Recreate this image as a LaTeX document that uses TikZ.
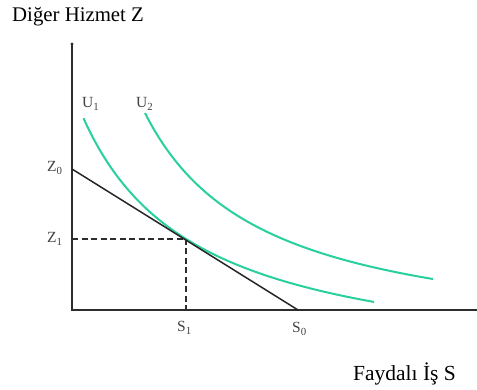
\documentclass[tikz,border=0pt]{standalone}
\usepackage{fontspec}
\setmainfont{Liberation Serif}
\definecolor{curvecol}{RGB}{40,208,158}
\definecolor{axiscol}{RGB}{45,45,45}
\definecolor{labcol}{RGB}{65,65,65}
\begin{document}
\begin{tikzpicture}[x=1pt,y=-1pt,
  axisline/.style={draw=axiscol,line width=1.5pt},
  budget/.style={draw=black!85,line width=1.5pt},
  ucurve/.style={draw=curvecol,line width=2pt},
  guide/.style={draw=axiscol,line width=1.7pt,dash pattern=on 6pt off 3.5pt},
  lab/.style={text=labcol,font=\fontsize{15.5}{17}\selectfont,anchor=base west,inner sep=0pt},
  title/.style={text=black,anchor=base west,inner sep=0pt}]
\useasboundingbox (0,0) rectangle (477,390);
% coordinates
\coordinate (O) at (72,310);
\coordinate (Ytop) at (72,44);
\coordinate (Xend) at (477,310);
\coordinate (Z0) at (72,169);
\coordinate (Z1) at (72,239);
\coordinate (S0) at (298,310);
\coordinate (S1) at (186,310);
\coordinate (E) at (186,239);
% axes
\draw[axisline] (Ytop) -- (O) -- (Xend);
\fill[axiscol] (Ytop) circle (1.6);
% dashed guides
\draw[guide] (Z1) -- (E) -- (S1);
% indifference curves
\draw[ucurve] plot[domain=83.5:374,samples=80,smooth] (\x,{375-296.55/((\x+32)/100)});
\draw[ucurve] plot[domain=145:433,samples=80,smooth] (\x,{347.5-278.53/((\x-26.2)/100)});
% budget line
\draw[budget] (Z0) -- (S0);
% labels
\node[title,font=\fontsize{20.8}{23}\selectfont] (ty) at (12,22) {Diğer Hizmet Z};
\node[title,font=\fontsize{21.5}{24}\selectfont] (tx) at (353,380) {Faydalı İş S};
\node[lab] (lz0) at (47,172) {Z\textsubscript{0}};
\node[lab] (lz1) at (47,243) {Z\textsubscript{1}};
\node[lab] (ls1) at (177,332) {S\textsubscript{1}};
\node[lab] (ls0) at (292,333) {S\textsubscript{0}};
\node[lab] (lu1) at (82,108) {U\textsubscript{1}};
\node[lab] (lu2) at (136,108) {U\textsubscript{2}};
\end{tikzpicture}
\end{document}
